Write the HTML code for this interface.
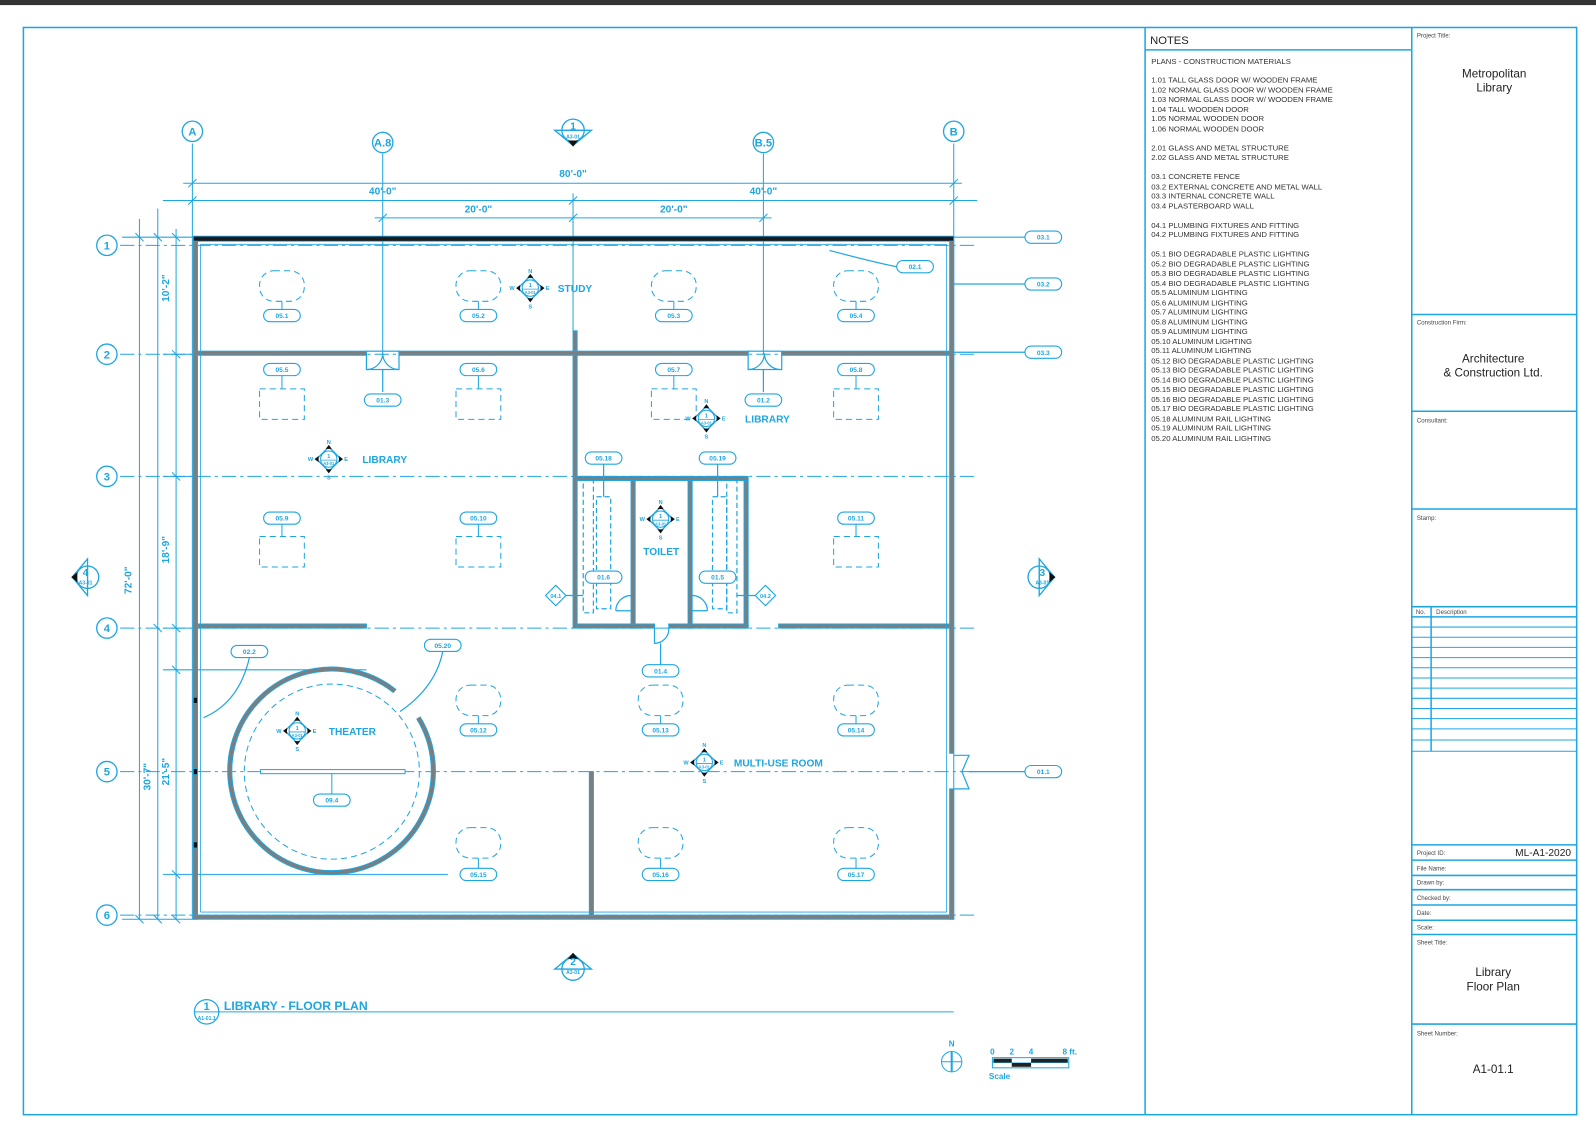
<!DOCTYPE html>
<html><head><meta charset="utf-8"><style>
html,body{margin:0;padding:0;background:#fff;}
svg{display:block;}
.b{stroke:#1ea6e2;fill:none;stroke-width:1.2}
.t{font-family:"Liberation Sans",sans-serif;font-weight:bold;fill:#1ea6e2;text-anchor:middle}
.n{font-family:"Liberation Sans",sans-serif;fill:#333;font-size:7.6px}
.s{font-family:"Liberation Sans",sans-serif;fill:#444;font-size:6px}
.g{stroke:#1ea6e2;stroke-width:1;stroke-dasharray:14 4 3 4;fill:none}
.d{stroke:#1ea6e2;stroke-width:1;stroke-dasharray:6 4;fill:none}
.w{fill:#7d7d7d;stroke:#1ea6e2;stroke-width:1}
</style></head><body>
<svg width="1596" height="1134" viewBox="0 0 1568 1114" preserveAspectRatio="none" xmlns="http://www.w3.org/2000/svg">
<defs>
<g id="cmp">
<polygon points="0,-12 12,0 0,12 -12,0" fill="#fff" stroke="#1ea6e2" stroke-width="1.3"/>
<circle r="8" fill="none" stroke="#1ea6e2" stroke-width="1"/>
<line x1="-8" y1="1" x2="8" y2="1" stroke="#1ea6e2" stroke-width="0.8"/>
<polygon points="-3,-10 3,-10 0,-14" fill="#111"/><polygon points="-3,10 3,10 0,14" fill="#111"/>
<polygon points="-10,-3 -10,3 -14,0" fill="#111"/><polygon points="10,-3 10,3 14,0" fill="#111"/>
</g>
<g id="sec">
<circle r="11" fill="#fff" stroke="#1ea6e2" stroke-width="1.3"/>
<polygon points="-18,0 18,0 0,15" fill="none" stroke="#1ea6e2" stroke-width="1.3"/>
<line x1="-11" y1="0" x2="11" y2="0" stroke="#1ea6e2"/>
<polygon points="-5,10 5,10 0,16" fill="#111"/>
</g>
<rect id="ell" x="-22" y="-15" width="44" height="30" rx="14" class="d"/>
<rect id="box" x="-22" y="-15" width="44" height="30" class="d"/>
</defs>
<rect x="0" y="0" width="1568" height="5" fill="#333"/>
<rect x="23" y="27" width="1526" height="1068" fill="none" stroke="#1ea6e2" stroke-width="1.5"/>
<g stroke="#1ea6e2" stroke-width="1.5">
<line x1="1125" y1="27" x2="1125" y2="1095"/><line x1="1387" y1="27" x2="1387" y2="1095"/>
<line x1="1125" y1="49" x2="1387" y2="49"/>
<line x1="1387" y1="309" x2="1549" y2="309"/><line x1="1387" y1="404" x2="1549" y2="404"/>
<line x1="1387" y1="500" x2="1549" y2="500"/><line x1="1387" y1="596" x2="1549" y2="596"/>
<line x1="1387" y1="606" x2="1549" y2="606"/>
<line x1="1387" y1="830" x2="1549" y2="830"/><line x1="1387" y1="845" x2="1549" y2="845"/>
<line x1="1387" y1="860" x2="1549" y2="860"/><line x1="1387" y1="874" x2="1549" y2="874"/>
<line x1="1387" y1="889" x2="1549" y2="889"/><line x1="1387" y1="904" x2="1549" y2="904"/>
<line x1="1387" y1="918" x2="1549" y2="918"/><line x1="1387" y1="1006" x2="1549" y2="1006"/>
<line x1="1406" y1="596" x2="1406" y2="738"/>
</g>
<g stroke="#1ea6e2" stroke-width="1">
<line x1="1387" y1="616" x2="1549" y2="616"/><line x1="1387" y1="626" x2="1549" y2="626"/><line x1="1387" y1="636" x2="1549" y2="636"/><line x1="1387" y1="646" x2="1549" y2="646"/><line x1="1387" y1="656" x2="1549" y2="656"/><line x1="1387" y1="666" x2="1549" y2="666"/><line x1="1387" y1="676" x2="1549" y2="676"/><line x1="1387" y1="686" x2="1549" y2="686"/><line x1="1387" y1="696" x2="1549" y2="696"/><line x1="1387" y1="706" x2="1549" y2="706"/><line x1="1387" y1="716" x2="1549" y2="716"/><line x1="1387" y1="727" x2="1549" y2="727"/><line x1="1387" y1="738" x2="1549" y2="738"/>
</g>
<text x="1130" y="43" style="font-family:'Liberation Sans',sans-serif;font-size:11px;fill:#222">NOTES</text>
<g class="n">
<text x="1131" y="63">PLANS - CONSTRUCTION MATERIALS</text>
<text x="1131" y="81">1.01 TALL GLASS DOOR W/ WOODEN FRAME</text>
<text x="1131" y="91">1.02 NORMAL GLASS DOOR W/ WOODEN FRAME</text>
<text x="1131" y="100">1.03 NORMAL GLASS DOOR W/ WOODEN FRAME</text>
<text x="1131" y="110">1.04 TALL WOODEN DOOR</text>
<text x="1131" y="119">1.05 NORMAL WOODEN DOOR</text>
<text x="1131" y="129">1.06 NORMAL WOODEN DOOR</text>
<text x="1131" y="148">2.01 GLASS AND METAL STRUCTURE</text>
<text x="1131" y="157">2.02 GLASS AND METAL STRUCTURE</text>
<text x="1131" y="176">03.1 CONCRETE FENCE</text>
<text x="1131" y="186">03.2 EXTERNAL CONCRETE AND METAL WALL</text>
<text x="1131" y="195">03.3 INTERNAL CONCRETE WALL</text>
<text x="1131" y="205">03.4 PLASTERBOARD WALL</text>
<text x="1131" y="224">04.1 PLUMBING FIXTURES AND FITTING</text>
<text x="1131" y="233">04.2 PLUMBING FIXTURES AND FITTING</text>
<text x="1131" y="252">05.1 BIO DEGRADABLE PLASTIC LIGHTING</text>
<text x="1131" y="262">05.2 BIO DEGRADABLE PLASTIC LIGHTING</text>
<text x="1131" y="271">05.3 BIO DEGRADABLE PLASTIC LIGHTING</text>
<text x="1131" y="281">05.4 BIO DEGRADABLE PLASTIC LIGHTING</text>
<text x="1131" y="290">05.5 ALUMINUM LIGHTING</text>
<text x="1131" y="300">05.6 ALUMINUM LIGHTING</text>
<text x="1131" y="309">05.7 ALUMINUM LIGHTING</text>
<text x="1131" y="319">05.8 ALUMINUM LIGHTING</text>
<text x="1131" y="328">05.9 ALUMINUM LIGHTING</text>
<text x="1131" y="338">05.10 ALUMINUM LIGHTING</text>
<text x="1131" y="347">05.11 ALUMINUM LIGHTING</text>
<text x="1131" y="357">05.12 BIO DEGRADABLE PLASTIC LIGHTING</text>
<text x="1131" y="366">05.13 BIO DEGRADABLE PLASTIC LIGHTING</text>
<text x="1131" y="376">05.14 BIO DEGRADABLE PLASTIC LIGHTING</text>
<text x="1131" y="385">05.15 BIO DEGRADABLE PLASTIC LIGHTING</text>
<text x="1131" y="395">05.16 BIO DEGRADABLE PLASTIC LIGHTING</text>
<text x="1131" y="404">05.17 BIO DEGRADABLE PLASTIC LIGHTING</text>
<text x="1131" y="414">05.18 ALUMINUM RAIL LIGHTING</text>
<text x="1131" y="423">05.19 ALUMINUM RAIL LIGHTING</text>
<text x="1131" y="433">05.20 ALUMINUM RAIL LIGHTING</text>
</g>
<g class="s">
<text x="1392" y="37">Project Title:</text>
<text x="1392" y="319">Construction Firm:</text>
<text x="1392" y="415">Consultant:</text>
<text x="1392" y="511">Stamp:</text>
<text x="1391" y="603">No.</text><text x="1411" y="603">Description</text>
<text x="1392" y="840">Project ID:</text>
<text x="1392" y="855">File Name:</text>
<text x="1392" y="869">Drawn by:</text>
<text x="1392" y="884">Checked by:</text>
<text x="1392" y="899">Date:</text>
<text x="1392" y="913">Scale:</text>
<text x="1392" y="928">Sheet Title:</text>
<text x="1392" y="1017">Sheet Number:</text>
</g>
<g style="font-family:'Liberation Sans',sans-serif;font-size:11.5px;fill:#222" text-anchor="middle">
<text x="1468" y="76">Metropolitan</text><text x="1468" y="90">Library</text>
<text x="1467" y="356">Architecture</text><text x="1467" y="370">&amp; Construction Ltd.</text>
<text x="1467" y="959">Library</text><text x="1467" y="973">Floor Plan</text>
<text x="1467" y="1054">A1-01.1</text>
<text x="1516" y="841" style="font-size:10px">ML-A1-2020</text>
</g>
<g class="g">
<line x1="118" y1="241" x2="960" y2="241"/><line x1="118" y1="348" x2="960" y2="348"/>
<line x1="118" y1="468" x2="960" y2="468"/><line x1="118" y1="617" x2="960" y2="617"/>
<line x1="118" y1="758" x2="960" y2="758"/><line x1="118" y1="899" x2="960" y2="899"/>
</g>
<g stroke="#1ea6e2" stroke-width="1">
<line x1="189" y1="141" x2="189" y2="903"/><line x1="937" y1="141" x2="937" y2="903"/>
<line x1="376" y1="151" x2="376" y2="348"/><line x1="750" y1="151" x2="750" y2="348"/>
<line x1="563" y1="190" x2="563" y2="325"/>
<line x1="180" y1="180" x2="945" y2="180"/><line x1="160" y1="197" x2="960" y2="197"/>
<line x1="368" y1="214" x2="758" y2="214"/>
<line x1="137" y1="215" x2="137" y2="903"/><line x1="155" y1="205" x2="155" y2="903"/><line x1="173" y1="225" x2="173" y2="903"/>
<line x1="120" y1="233" x2="190" y2="233"/>
<line x1="160" y1="348" x2="190" y2="348"/><line x1="160" y1="468" x2="190" y2="468"/>
<line x1="160" y1="617" x2="190" y2="617"/><line x1="160" y1="658" x2="360" y2="658"/>
<line x1="160" y1="859" x2="440" y2="859"/><line x1="120" y1="903" x2="190" y2="903"/>
</g>
<g stroke="#1ea6e2" stroke-width="1">
<line x1="185" y1="184" x2="193" y2="176"/><line x1="933" y1="184" x2="941" y2="176"/>
<line x1="185" y1="201" x2="193" y2="193"/><line x1="559" y1="201" x2="567" y2="193"/><line x1="933" y1="201" x2="941" y2="193"/>
<line x1="372" y1="218" x2="380" y2="210"/><line x1="559" y1="218" x2="567" y2="210"/><line x1="746" y1="218" x2="754" y2="210"/>
<line x1="133" y1="229" x2="141" y2="237"/><line x1="151" y1="229" x2="159" y2="237"/><line x1="169" y1="229" x2="177" y2="237"/>
<line x1="169" y1="344" x2="177" y2="352"/><line x1="169" y1="464" x2="177" y2="472"/><line x1="169" y1="613" x2="177" y2="621"/>
<line x1="151" y1="613" x2="159" y2="621"/><line x1="169" y1="654" x2="177" y2="662"/><line x1="169" y1="855" x2="177" y2="863"/>
<line x1="133" y1="899" x2="141" y2="907"/><line x1="151" y1="899" x2="159" y2="907"/><line x1="169" y1="899" x2="177" y2="907"/>
</g>
<g class="t" style="font-size:10px">
<text x="563" y="174">80'-0"</text>
<text x="376" y="191">40'-0"</text><text x="750" y="191">40'-0"</text>
<text x="470" y="209">20'-0"</text><text x="662" y="209">20'-0"</text>
<text transform="translate(129,570) rotate(-90)">72'-0"</text>
<text transform="translate(148,763) rotate(-90)">30'-7"</text>
<text transform="translate(166,283) rotate(-90)">10'-2"</text>
<text transform="translate(166,540) rotate(-90)">18'-9"</text>
<text transform="translate(166,758) rotate(-90)">21'-5"</text>
</g>
<g fill="#fff" stroke="#1ea6e2" stroke-width="1.3">
<circle cx="189" cy="129" r="10"/><circle cx="937" cy="129" r="10"/>
<circle cx="376" cy="140" r="10"/><circle cx="750" cy="140" r="10"/>
<circle cx="105" cy="241" r="10"/><circle cx="105" cy="348" r="10"/><circle cx="105" cy="468" r="10"/>
<circle cx="105" cy="617" r="10"/><circle cx="105" cy="758" r="10"/><circle cx="105" cy="899" r="10"/>
</g>
<g class="t" style="font-size:11px">
<text x="189" y="133">A</text><text x="937" y="133">B</text><text x="376" y="144">A.8</text><text x="750" y="144">B.5</text>
<text x="105" y="245">1</text><text x="105" y="352">2</text><text x="105" y="472">3</text>
<text x="105" y="621">4</text><text x="105" y="762">5</text><text x="105" y="903">6</text>
</g>
<rect x="190" y="232" width="747" height="5" fill="#1a1a1a" stroke="#1ea6e2" stroke-width="0.8"/>
<rect x="190" y="237" width="4" height="666" class="w"/>
<rect x="190" y="899" width="747" height="4" class="w"/>
<rect x="933" y="237" width="4" height="503" class="w"/>
<rect x="933" y="775" width="4" height="128" class="w"/>
<rect x="194" y="345" width="166" height="4" class="w"/>
<rect x="392" y="345" width="343" height="4" class="w"/>
<rect x="768" y="345" width="165" height="4" class="w"/>
<rect x="563" y="325" width="4" height="20" class="w"/>
<rect x="563" y="349" width="4" height="268" class="w"/>
<rect x="567" y="468" width="168" height="4" class="w"/>
<rect x="731" y="472" width="4" height="145" class="w"/>
<rect x="620" y="472" width="4" height="145" class="w"/>
<rect x="676" y="472" width="4" height="145" class="w"/>
<rect x="567" y="613" width="76" height="4" class="w"/><rect x="657" y="613" width="78" height="4" class="w"/>
<rect x="194" y="613" width="166" height="4" class="w"/>
<rect x="765" y="613" width="168" height="4" class="w"/>
<rect x="579" y="758" width="4" height="141" class="w"/>
<g stroke="#1ea6e2" stroke-width="0.8" fill="none">
<line x1="197" y1="240" x2="930" y2="240"/><line x1="197" y1="240" x2="197" y2="896"/>
<line x1="197" y1="896" x2="930" y2="896"/><line x1="930" y1="240" x2="930" y2="896"/>
<rect x="190" y="685" width="4" height="6" fill="#111"/><rect x="190" y="755" width="4" height="6" fill="#111"/><rect x="190" y="827" width="4" height="6" fill="#111"/>
</g>
<g class="b" stroke-width="1">
<rect x="360" y="345" width="32" height="18"/><path d="M360,363 A16,16 0 0 0 376,347 M392,363 A16,16 0 0 1 376,347"/>
<rect x="735" y="345" width="33" height="18"/><path d="M735,363 A16,16 0 0 0 751,347 M768,363 A16,16 0 0 1 751,347"/>
<path d="M605,600 A15,15 0 0 1 620,585 M605,600 L620,600"/>
<path d="M695,600 A15,15 0 0 0 680,585 M695,600 L680,600"/>
<path d="M643,617 L643,632 A14,14 0 0 0 657,617"/>
<path d="M937,742 L952,742 L945,758 L952,775 L937,775"/>
<line x1="376" y1="385" x2="376" y2="363"/><line x1="750" y1="385" x2="750" y2="363"/>
<line x1="649" y1="632" x2="649" y2="653"/>
<line x1="952" y1="758" x2="1007" y2="758"/>
<line x1="937" y1="233" x2="1007" y2="233"/><line x1="937" y1="279" x2="1007" y2="279"/><line x1="937" y1="346" x2="1007" y2="346"/>
<path d="M815,246 Q860,258 881,262"/>
<path d="M245,646 Q235,690 200,705"/>
<path d="M435,640 Q428,675 393,699"/>
<rect x="573" y="472" width="10" height="130" stroke-dasharray="5 3"/>
<rect x="586" y="488" width="14" height="110" stroke-dasharray="5 3"/>
<rect x="714" y="472" width="10" height="130" stroke-dasharray="5 3"/>
<rect x="700" y="488" width="14" height="110" stroke-dasharray="5 3"/>
<line x1="593" y1="456" x2="593" y2="488"/><line x1="705" y1="456" x2="705" y2="488"/>
<line x1="555" y1="585" x2="573" y2="585"/><line x1="724" y1="585" x2="743" y2="585"/>
</g>
<!-- theater -->
<path d="M411,705 A100,100 0 1 1 388,679" fill="none" stroke="#1ea6e2" stroke-width="5"/>
<path d="M411,705 A100,100 0 1 1 388,679" fill="none" stroke="#7d7d7d" stroke-width="3"/>
<circle cx="326" cy="758" r="86" class="d"/>
<rect x="256" y="756" width="142" height="4" fill="#fff" stroke="#1ea6e2" stroke-width="1"/>
<line x1="326" y1="760" x2="326" y2="780" stroke="#1ea6e2"/>
<g>
<use href="#ell" x="277" y="281"/><use href="#ell" x="470" y="281"/><use href="#ell" x="662" y="281"/><use href="#ell" x="841" y="281"/>
<use href="#box" x="277" y="397"/><use href="#box" x="470" y="397"/><use href="#box" x="662" y="397"/><use href="#box" x="841" y="397"/>
<use href="#box" x="277" y="542"/><use href="#box" x="470" y="542"/><use href="#box" x="841" y="542"/>
<use href="#ell" x="470" y="688"/><use href="#ell" x="649" y="688"/><use href="#ell" x="841" y="688"/>
<use href="#ell" x="470" y="828"/><use href="#ell" x="649" y="828"/><use href="#ell" x="841" y="828"/>
</g>
<g stroke="#1ea6e2" stroke-width="1">
<line x1="277" y1="296" x2="277" y2="304"/><line x1="470" y1="296" x2="470" y2="304"/><line x1="662" y1="296" x2="662" y2="304"/><line x1="841" y1="296" x2="841" y2="304"/>
<line x1="277" y1="369" x2="277" y2="382"/><line x1="470" y1="369" x2="470" y2="382"/><line x1="662" y1="369" x2="662" y2="382"/><line x1="841" y1="369" x2="841" y2="382"/>
<line x1="277" y1="515" x2="277" y2="527"/><line x1="470" y1="515" x2="470" y2="527"/><line x1="841" y1="515" x2="841" y2="527"/>
<line x1="470" y1="703" x2="470" y2="711"/><line x1="649" y1="703" x2="649" y2="711"/><line x1="841" y1="703" x2="841" y2="711"/>
<line x1="470" y1="843" x2="470" y2="853"/><line x1="649" y1="843" x2="649" y2="853"/><line x1="841" y1="843" x2="841" y2="853"/>
</g>
<g fill="#fff" stroke="#1ea6e2" stroke-width="1.1">
<rect x="259" y="304" width="36" height="12" rx="6"/><rect x="452" y="304" width="36" height="12" rx="6"/><rect x="644" y="304" width="36" height="12" rx="6"/><rect x="823" y="304" width="36" height="12" rx="6"/>
<rect x="259" y="357" width="36" height="12" rx="6"/><rect x="452" y="357" width="36" height="12" rx="6"/><rect x="644" y="357" width="36" height="12" rx="6"/><rect x="823" y="357" width="36" height="12" rx="6"/>
<rect x="259" y="503" width="36" height="12" rx="6"/><rect x="452" y="503" width="36" height="12" rx="6"/><rect x="823" y="503" width="36" height="12" rx="6"/>
<rect x="452" y="711" width="36" height="12" rx="6"/><rect x="631" y="711" width="36" height="12" rx="6"/><rect x="823" y="711" width="36" height="12" rx="6"/>
<rect x="452" y="853" width="36" height="12" rx="6"/><rect x="631" y="853" width="36" height="12" rx="6"/><rect x="823" y="853" width="36" height="12" rx="6"/>
<rect x="1007" y="227" width="36" height="12" rx="6"/><rect x="1007" y="273" width="36" height="12" rx="6"/><rect x="1007" y="340" width="36" height="12" rx="6"/><rect x="1007" y="752" width="36" height="12" rx="6"/>
<rect x="881" y="256" width="36" height="12" rx="6"/>
<rect x="358" y="387" width="36" height="12" rx="6"/><rect x="732" y="387" width="36" height="12" rx="6"/>
<rect x="631" y="653" width="36" height="12" rx="6"/>
<rect x="575" y="444" width="36" height="12" rx="6"/><rect x="687" y="444" width="36" height="12" rx="6"/>
<rect x="575" y="561" width="36" height="12" rx="6"/><rect x="687" y="561" width="36" height="12" rx="6"/>
<rect x="227" y="634" width="36" height="12" rx="6"/><rect x="417" y="628" width="36" height="12" rx="6"/>
<rect x="308" y="780" width="36" height="12" rx="6"/>
<polygon points="546,575 556,585 546,595 536,585"/><polygon points="752,575 762,585 752,595 742,585"/>
</g>
<g class="t" style="font-size:6.5px">
<text x="277" y="312.5">05.1</text><text x="470" y="312.5">05.2</text><text x="662" y="312.5">05.3</text><text x="841" y="312.5">05.4</text>
<text x="277" y="365.5">05.5</text><text x="470" y="365.5">05.6</text><text x="662" y="365.5">05.7</text><text x="841" y="365.5">05.8</text>
<text x="277" y="511.5">05.9</text><text x="470" y="511.5">05.10</text><text x="841" y="511.5">05.11</text>
<text x="470" y="719.5">05.12</text><text x="649" y="719.5">05.13</text><text x="841" y="719.5">05.14</text>
<text x="470" y="861.5">05.15</text><text x="649" y="861.5">05.16</text><text x="841" y="861.5">05.17</text>
<text x="1025" y="235.5">03.1</text><text x="1025" y="281.5">03.2</text><text x="1025" y="348.5">03.3</text><text x="1025" y="760.5">01.1</text>
<text x="899" y="264.5">02.1</text><text x="376" y="395.5">01.3</text><text x="750" y="395.5">01.2</text><text x="649" y="661.5">01.4</text>
<text x="593" y="452.5">05.18</text><text x="705" y="452.5">05.19</text><text x="593" y="569.5">01.6</text><text x="705" y="569.5">01.5</text>
<text x="245" y="642.5">02.2</text><text x="435" y="636.5">05.20</text><text x="326" y="788.5">09.4</text>
<text x="546" y="587.5" style="font-size:5.5px">04.1</text><text x="752" y="587.5" style="font-size:5.5px">04.2</text>
</g>
<use href="#cmp" x="521" y="283"/><use href="#cmp" x="323" y="451"/><use href="#cmp" x="694" y="411"/>
<use href="#cmp" x="649" y="510"/><use href="#cmp" x="292" y="718"/><use href="#cmp" x="692" y="749"/>
<g class="t" style="font-size:5.5px">
<text x="521" y="282">1</text><text x="521" y="289" style="font-size:4px">A3-01</text><text x="521" y="268">N</text><text x="521" y="303">S</text><text x="503" y="285">W</text><text x="538" y="285">E</text>
<text x="323" y="450">1</text><text x="323" y="457" style="font-size:4px">A3-01</text><text x="323" y="436">N</text><text x="323" y="471">S</text><text x="305" y="453">W</text><text x="340" y="453">E</text>
<text x="694" y="410">1</text><text x="694" y="417" style="font-size:4px">A3-01</text><text x="694" y="396">N</text><text x="694" y="431">S</text><text x="676" y="413">W</text><text x="711" y="413">E</text>
<text x="649" y="509">1</text><text x="649" y="516" style="font-size:4px">A3-01</text><text x="649" y="495">N</text><text x="649" y="530">S</text><text x="631" y="512">W</text><text x="666" y="512">E</text>
<text x="292" y="717">1</text><text x="292" y="724" style="font-size:4px">A3-01</text><text x="292" y="703">N</text><text x="292" y="738">S</text><text x="274" y="720">W</text><text x="309" y="720">E</text>
<text x="692" y="748">1</text><text x="692" y="755" style="font-size:4px">A3-01</text><text x="692" y="734">N</text><text x="692" y="769">S</text><text x="674" y="751">W</text><text x="709" y="751">E</text>
</g>
<g class="t" style="font-size:10px;text-anchor:start">
<text x="548" y="287">STUDY</text><text x="356" y="455">LIBRARY</text><text x="732" y="415">LIBRARY</text>
<text x="632" y="545">TOILET</text><text x="323" y="722">THEATER</text><text x="721" y="753">MULTI-USE ROOM</text>
</g>
<use href="#sec" x="563" y="128"/>
<use href="#sec" transform="translate(563,952) rotate(180)"/>
<use href="#sec" transform="translate(86,567) rotate(90)"/>
<use href="#sec" transform="translate(1021,567) rotate(-90)"/>
<g class="t">
<text x="563" y="127" style="font-size:10px">1</text><text x="563" y="136" style="font-size:5px">A3-01</text>
<text x="563" y="948" style="font-size:10px">2</text><text x="563" y="957" style="font-size:5px">A3-01</text>
<text x="84" y="566" style="font-size:10px">4</text><text x="84" y="574" style="font-size:5px">A3-01</text>
<text x="1024" y="566" style="font-size:10px">3</text><text x="1024" y="574" style="font-size:5px">A3-01</text>
</g>
<circle cx="203" cy="994" r="12" fill="#fff" stroke="#1ea6e2" stroke-width="1.2"/>
<line x1="191" y1="994" x2="937" y2="994" stroke="#1ea6e2"/>
<text x="203" y="992" class="t" style="font-size:11px">1</text>
<text x="203" y="1002" class="t" style="font-size:5px">A1-01.1</text>
<text x="220" y="992" class="t" style="font-size:12px;text-anchor:start">LIBRARY - FLOOR PLAN</text>
<text x="935" y="1028" class="t" style="font-size:8px">N</text>
<circle cx="935" cy="1043" r="10" fill="none" stroke="#1ea6e2"/>
<line x1="925" y1="1043" x2="945" y2="1043" stroke="#1ea6e2"/><line x1="935" y1="1033" x2="935" y2="1053" stroke="#1ea6e2" stroke-width="2"/>
<g class="t" style="font-size:8px"><text x="975" y="1036">0</text><text x="994" y="1036">2</text><text x="1013" y="1036">4</text><text x="1051" y="1036">8 ft.</text><text x="982" y="1060">Scale</text></g>
<rect x="975" y="1039" width="75" height="10" fill="#fff" stroke="#1ea6e2"/>
<rect x="976" y="1040" width="18" height="4" fill="#222"/><rect x="1013" y="1040" width="36" height="4" fill="#222"/><rect x="994" y="1044" width="19" height="4" fill="#222"/>
<line x1="975" y1="1044" x2="1050" y2="1044" stroke="#1ea6e2" stroke-width="0.6"/>
</svg>
</body></html>
